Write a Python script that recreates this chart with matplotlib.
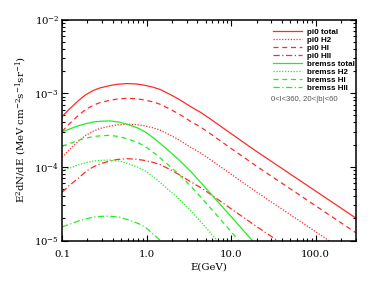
import matplotlib
matplotlib.use('Agg')
import matplotlib.pyplot as plt
from matplotlib.ticker import LogLocator, FixedLocator, FixedFormatter, NullFormatter

plt.rcParams['font.family'] = 'DejaVu Serif'
plt.rcParams['mathtext.fontset'] = 'dejavuserif'

# energies (GeV) and E^2 dN/dE values
e_pi0 = [0.1, 0.12, 0.156, 0.19, 0.235, 0.282, 0.371, 0.45, 0.586, 0.75, 0.914,
         1.18, 1.45, 1.9, 2.4, 3.3, 4.4, 5.7, 9.84, 19.5, 300]
pi0_total = [4.79e-4, 5.96e-4, 7.9e-4, 9.5e-4, 1.09e-3, 1.18e-3, 1.27e-3, 1.32e-3,
             1.35e-3, 1.335e-3, 1.29e-3, 1.21e-3, 1.12e-3, 9.6e-4, 8.3e-4, 6.6e-4,
             5.45e-4, 4.45e-4, 2.86e-4, 1.65e-4, 2.01e-5]
pi0_h2 = [1.35e-4, 1.67e-4, 2.22e-4, 2.67e-4, 3.06e-4, 3.32e-4, 3.57e-4, 3.71e-4,
          3.79e-4, 3.75e-4, 3.62e-4, 3.40e-4, 3.15e-4, 2.70e-4, 2.33e-4, 1.85e-4,
          1.53e-4, 1.25e-4, 8.04e-5, 4.64e-5, 5.65e-6]
pi0_hi = [3.02e-4, 3.76e-4, 4.98e-4, 5.99e-4, 6.88e-4, 7.45e-4, 8.01e-4, 8.33e-4,
          8.52e-4, 8.42e-4, 8.14e-4, 7.64e-4, 7.07e-4, 6.06e-4, 5.24e-4, 4.16e-4,
          3.44e-4, 2.81e-4, 1.80e-4, 1.04e-4, 1.27e-5]
pi0_hii = [4.5e-5, 5.5e-5, 7.0e-5, 8.6e-5, 1.0e-4, 1.1e-4, 1.2e-4, 1.26e-4,
           1.29e-4, 1.27e-4, 1.23e-4, 1.155e-4, 1.07e-4, 9.2e-5, 7.9e-5, 6.3e-5,
           5.2e-5, 4.25e-5, 2.73e-5, 1.58e-5, 1.92e-6]

e_brem = [0.1, 0.13, 0.156, 0.19, 0.235, 0.3, 0.371, 0.488, 0.64, 0.8, 0.965,
          1.25, 1.667, 2.4, 3.456, 6.234, 17.8]
brem_total = [2.99e-4, 3.34e-4, 3.61e-4, 3.85e-4, 4.07e-4, 4.17e-4, 4.20e-4, 4.03e-4,
              3.67e-4, 3.34e-4, 2.975e-4, 2.40e-4, 1.81e-4, 1.253e-4, 8.29e-5,
              3.88e-5, 1.0e-5]
e_brem_hi = [0.1, 0.13, 0.156, 0.19, 0.235, 0.3, 0.371, 0.488, 0.64, 0.8, 0.965,
             1.25, 1.667, 2.4, 3.456, 6.234, 12.34]
brem_hi = [1.90e-4, 2.12e-4, 2.29e-4, 2.44e-4, 2.58e-4, 2.65e-4, 2.67e-4, 2.56e-4,
           2.33e-4, 2.12e-4, 1.89e-4, 1.52e-4, 1.15e-4, 7.96e-5, 5.26e-5, 2.46e-5,
           1.0e-5]
e_brem_h2 = [0.1, 0.13, 0.156, 0.19, 0.235, 0.3, 0.371, 0.488, 0.64, 0.8, 0.965,
             1.25, 1.667, 2.4, 3.456, 6.84]
brem_h2 = [8.81e-5, 9.84e-5, 1.063e-4, 1.134e-4, 1.199e-4, 1.228e-4, 1.237e-4,
           1.187e-4, 1.081e-4, 9.84e-5, 8.76e-5, 7.07e-5, 5.33e-5, 3.69e-5, 2.44e-5,
           1.0e-5]
e_brem_hii = [0.1, 0.13, 0.156, 0.19, 0.235, 0.3, 0.371, 0.488, 0.64, 0.8, 0.965,
              1.25, 1.45]
brem_hii = [1.53e-5, 1.70e-5, 1.84e-5, 1.96e-5, 2.08e-5, 2.13e-5, 2.14e-5, 2.06e-5,
            1.87e-5, 1.70e-5, 1.52e-5, 1.17e-5, 1.0e-5]

xticks = [0.1, 1, 10, 100]
xtick_labels = ['0.1', '1.0', '10.0', '100.0']

red = '#ff2a2a'
green = '#1ef01e'
dotted = (0, (1, 1.3))
dashed = (0, (4, 3))
dashdot = (0, (5, 2, 1, 2))
lw = 0.9

fig = plt.figure(figsize=(3.74, 2.81), dpi=100)
ax = fig.add_axes([0.1658, 0.1441, 0.7861, 0.7865])

ax.plot(e_pi0, pi0_total, color=red, lw=lw, ls='-', label='pi0 total')
ax.plot(e_pi0, pi0_h2, color=red, lw=lw, ls=dotted, label='pi0 H2')
ax.plot(e_pi0, pi0_hi, color=red, lw=lw, ls=dashed, label='pi0 HI')
ax.plot(e_pi0, pi0_hii, color=red, lw=lw, ls=dashdot, label='pi0 HII')
ax.plot(e_brem, brem_total, color=green, lw=lw, ls='-', label='bremss total')
ax.plot(e_brem_h2, brem_h2, color=green, lw=lw, ls=dotted, label='bremss H2')
ax.plot(e_brem_hi, brem_hi, color=green, lw=lw, ls=dashed, label='bremss HI')
ax.plot(e_brem_hii, brem_hii, color=green, lw=lw, ls=dashdot, label='bremss HII')

ax.set_xscale('log')
ax.set_yscale('log')
ax.set_xlim(0.1, 300)
ax.set_ylim(1e-5, 1e-2)

ax.xaxis.set_major_locator(FixedLocator(xticks))
ax.xaxis.set_major_formatter(FixedFormatter(xtick_labels))
ax.xaxis.set_minor_locator(LogLocator(base=10, subs=range(2, 10)))
ax.xaxis.set_minor_formatter(NullFormatter())
ax.yaxis.set_minor_locator(LogLocator(base=10, subs=range(2, 10)))
ax.yaxis.set_minor_formatter(NullFormatter())

ax.tick_params(which='both', direction='in', top=True, right=True, width=0.8)
ax.tick_params(which='major', length=4)
ax.tick_params(which='minor', length=2)
ax.tick_params(axis='x', which='major', labelsize=7.3, pad=6.5)
ax.tick_params(axis='y', which='major', labelsize=7.3, pad=2)
for s in ax.spines.values():
    s.set_linewidth(1.1)

ax.set_xlabel('E(GeV)', fontsize=7.3, labelpad=3)
ax.set_ylabel(r'E$^2$dN/dE (MeV cm$^{-2}$s$^{-1}$sr$^{-1}$)', fontsize=7.3, labelpad=4)

leg = ax.legend(loc='upper left', bbox_to_anchor=(0.717, 0.962), frameon=False,
                prop={'family': 'Liberation Sans', 'weight': 'bold', 'size': 5.8},
                handlelength=3.6, handletextpad=0.6, labelspacing=0.05,
                borderpad=0, borderaxespad=0)

ax.text(0.71, 0.64, '0<l<360, 20<|b|<60', transform=ax.transAxes, va='center', ha='left',
        fontsize=5.6, family='Liberation Sans', color='#555555')

fig.savefig('out.png', dpi=100)
